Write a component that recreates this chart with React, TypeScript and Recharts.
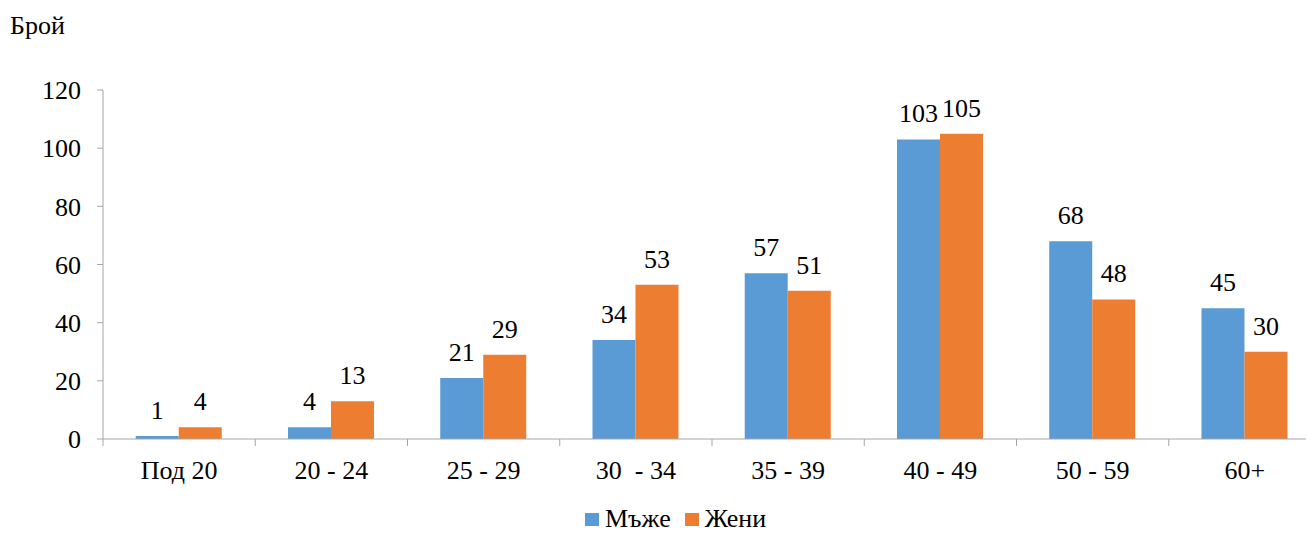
import { BarChart, Bar, XAxis, YAxis, LabelList } from 'recharts'

const CATEGORIES = ['Под 20', '20 - 24', '25 - 29', '30  - 34', '35 - 39', '40 - 49', '50 - 59', '60+']
const MEN = [1, 4, 21, 34, 57, 103, 68, 45]
const WOMEN = [4, 13, 29, 53, 51, 105, 48, 30]
const Y_TICKS = [0, 20, 40, 60, 80, 100, 120]

const SERIES = [
  { key: 'men', name: 'Мъже', color: '#5B9BD5' },
  { key: 'women', name: 'Жени', color: '#ED7D31' },
]

const FONT = 'Liberation Serif'
const FS = 26
const AXIS = '#A6A6A6'

const W = 1330
const H = 533
const Y_W = 103
const M_RIGHT = 9
const BAND = (W - Y_W - M_RIGHT) / CATEGORIES.length

const data = CATEGORIES.map((name, i) => ({ name, men: MEN[i], women: WOMEN[i] }))

const CategoryTick = ({ x, y, payload }: any) => {
  const left = x - BAND / 2
  return (
    <g>
      <line x1={left} y1={y} x2={left} y2={y + 7} stroke={AXIS} strokeWidth={1} />
      <text x={x} y={y + 40} textAnchor="middle" fontSize={FS} fontFamily={FONT} fill="#000" xmlSpace="preserve">
        {payload.value}
      </text>
    </g>
  )
}

const App = () => (
  <div style={{ margin: '-8px 0 0 -8px', width: 1314, height: 533, overflow: 'hidden', position: 'relative', fontFamily: FONT }}>
    <style>{`#root, #root * { font-family: 'Liberation Serif', serif !important; }`}</style>
    <div style={{ position: 'absolute', left: 10, top: 11, fontSize: FS, lineHeight: '30px', color: '#000' }}>Брой</div>

    <BarChart
      width={W}
      height={H}
      data={data}
      barCategoryGap="21.5%"
      barGap={0}
      margin={{ top: 90, right: M_RIGHT, left: 0, bottom: 0 }}
    >
      <XAxis
        dataKey="name"
        height={94}
        axisLine={{ stroke: AXIS }}
        tickLine={false}
        tickSize={0}
        tickMargin={0}
        interval={0}
        tick={<CategoryTick />}
      />
      <YAxis
        width={Y_W}
        domain={[0, 120]}
        ticks={Y_TICKS}
        axisLine={{ stroke: AXIS }}
        tickLine={{ stroke: AXIS }}
        tickSize={6}
        tickMargin={16}
        tick={{ fill: '#000', fontSize: FS, fontFamily: FONT }}
      />
      {SERIES.map(s => (
        <Bar key={s.key} dataKey={s.key} name={s.name} fill={s.color} isAnimationActive={false}>
          <LabelList dataKey={s.key} position="top" offset={17} fill="#000" fontSize={FS} fontFamily={FONT} />
        </Bar>
      ))}
    </BarChart>

    <div
      style={{
        position: 'absolute',
        left: 585,
        top: 506,
        display: 'flex',
        alignItems: 'center',
        gap: 14,
        fontSize: FS,
        lineHeight: '26px',
        color: '#000',
      }}
    >
      {SERIES.map(s => (
        <span key={s.key} style={{ display: 'flex', alignItems: 'center', gap: 6 }}>
          <span style={{ width: 14, height: 13, background: s.color, display: 'inline-block' }} />
          {s.name}
        </span>
      ))}
    </div>
  </div>
)

export default App
